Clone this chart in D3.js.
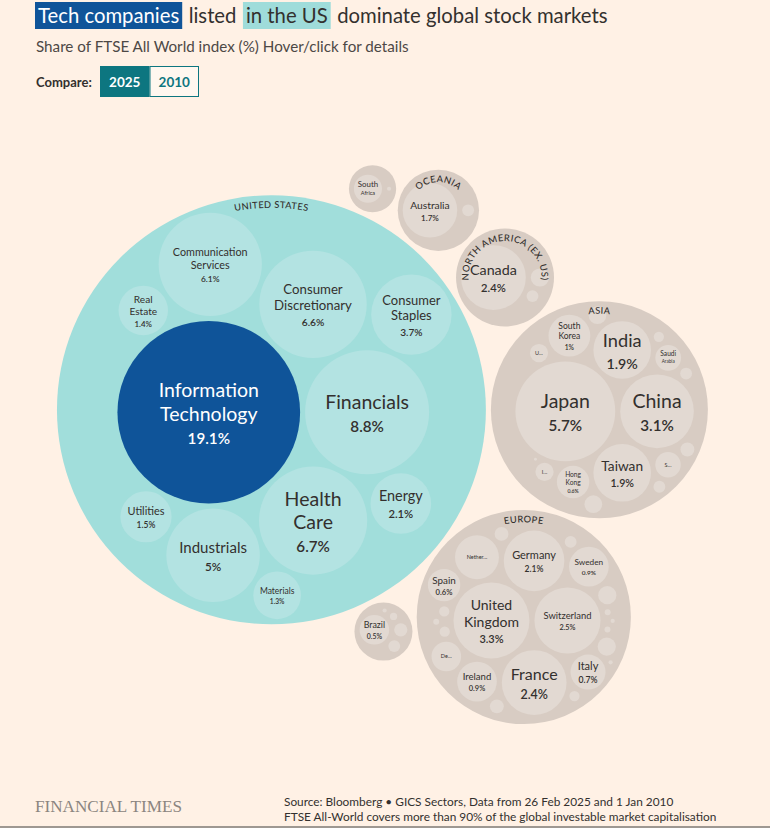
<!DOCTYPE html>
<html><head><meta charset="utf-8">
<script src="https://cdn.jsdelivr.net/npm/d3@7"></script>
<style>
html,body{margin:0;padding:0;background:#FFF1E5;}
svg{display:block;}
</style></head><body>
<svg id="chart" width="770" height="828" style="font-family:Lato,'Noto Sans',sans-serif"></svg>
<script>
// ---------- DATA ----------
const regionNames = ["United States","Asia","Europe","North America (ex. US)","Oceania","Latin America","Africa"];
const regionLabels = ["UNITED STATES","ASIA","EUROPE","NORTH AMERICA (EX. US)","OCEANIA","",""];

const usNames  = ["Information Technology","Financials","Health Care","Consumer Discretionary","Communication Services","Industrials","Consumer Staples","Energy","Utilities","Real Estate","Materials"];
const usShares = [19.1, 8.8, 6.7, 6.6, 6.1, 5, 3.7, 2.1, 1.5, 1.4, 1.3];
const usLabels = usNames;

const asiaNames  = ["Japan","China","Taiwan","India","South Korea","Hong Kong","Saudi Arabia","Singapore","Indonesia","United Arab Emirates","Thailand","Malaysia","Qatar","Kuwait","Philippines","Pakistan","Egypt"];
const asiaShares = [5.7, 3.1, 1.9, 1.9, 1.0, 0.6, 0.38, 0.37, 0.19, 0.19, 0.18, 0.18, 0.11, 0.08, 0.08, 0.06, 0.005];
const asiaLabels = ["Japan","China","Taiwan","India","South Korea","Hong Kong","Saudi Arabia","S...","I...","U...","","","","","","",""];

const euNames  = ["United Kingdom","Switzerland","France","Germany","Netherlands","Ireland","Sweden","Italy","Spain","Denmark","Finland","Belgium","Norway","Austria","Poland","Portugal","Greece","Turkey","Czech Republic","Hungary","Iceland","Luxembourg","Malta"];
const euShares = [3.3, 2.5, 2.4, 2.1, 1.1, 0.9, 0.9, 0.7, 0.6, 0.5, 0.19, 0.19, 0.11, 0.11, 0.08, 0.06, 0.06, 0.06, 0.02, 0.02, 0.02, 0.01, 0.01];
const euLabels = ["United Kingdom","Switzerland","France","Germany","Nether...","Ireland","Sweden","Italy","Spain","De...","","","","","","","","","","","","",""];

const naNames  = ["Canada","Bermuda","Puerto Rico"];
const naShares = [2.4, 0.19, 0.08];
const naLabels = ["Canada","",""];

const ocNames  = ["Australia","New Zealand"];
const ocShares = [1.7, 0.08];
const ocLabels = ["Australia",""];

const laNames  = ["Brazil","Mexico","Chile","Colombia","Peru"];
const laShares = [0.5, 0.1, 0.08, 0.03, 0.01];
const laLabels = ["Brazil","","","",""];

const afNames  = ["South Africa","Morocco"];
const afShares = [0.45, 0.01];
const afLabels = ["South Africa",""];

const years = ["2025","2010"];

// ---------- BUILD HIERARCHY ----------
function kids(names, shares, labels){ return names.map((n,i)=>({name:n, value:shares[i], label:labels[i]})); }
const childLists = [
  kids(usNames, usShares, usLabels),
  kids(asiaNames, asiaShares, asiaLabels),
  kids(euNames, euShares, euLabels),
  kids(naNames, naShares, naLabels),
  kids(ocNames, ocShares, ocLabels),
  kids(laNames, laShares, laLabels),
  kids(afNames, afShares, afLabels)
];
const tree = {name:"World", children: regionNames.map((n,i)=>({name:n, label:regionLabels[i], children:childLists[i]}))};

// ---------- SETUP ----------
const W = 770, H = 828;
const svg = d3.select("#chart");
svg.append("rect").attr("width",W).attr("height",H).attr("fill","#FFF1E5");

const ctx = document.createElement("canvas").getContext("2d");
function tw(str, size, weight){ ctx.font = `${weight||400} ${size}px Lato`; return ctx.measureText(str).width; }

const ink = "#33302E";

// ---------- HEADER ----------
const titleParts = [
  {t:"Tech companies", bg:"#0F5499", fg:"#FFFFFF"},
  {t:"listed", bg:null, fg:ink},
  {t:"in the US", bg:"#9FDCDA", fg:ink},
  {t:"dominate global stock markets", bg:null, fg:ink}
];
const tSize = 20.3;
let tx = 38;
titleParts.forEach(p=>{
  const w = tw(p.t, tSize);
  if (p.bg) svg.append("rect").attr("x",tx-3).attr("y",2).attr("width",w+6).attr("height",27).attr("fill",p.bg);
  svg.append("text").attr("x",tx).attr("y",22.5).attr("font-size",tSize).attr("fill",p.fg).text(p.t);
  tx += w + 9.5;
});

svg.append("text").attr("x",36).attr("y",52).attr("font-size",15.2).attr("fill","#4d4845")
  .text("Share of FTSE All World index (%) Hover/click for details");

svg.append("text").attr("x",36).attr("y",87).attr("font-size",13).attr("font-weight",700).attr("fill",ink).text("Compare:");
const bx = d3.scaleBand().domain(years).range([100,199]);
years.forEach((y,i)=>{
  svg.append("rect").attr("x",bx(y)+0.5).attr("y",66.5).attr("width",bx.bandwidth()-1).attr("height",30)
    .attr("fill", i===0 ? "#0D7680" : "#FFF7EF").attr("stroke","#0D7680").attr("stroke-width",1);
  svg.append("text").attr("x",bx(y)+bx.bandwidth()/2).attr("y",86.5).attr("text-anchor","middle")
    .attr("font-size",13.5).attr("font-weight",700).attr("fill", i===0 ? "#FFFFFF" : "#0D7680").text(y);
});

// ---------- PACK ----------
const K = 20.9;   // px per sqrt(percentage point)
const root = d3.hierarchy(tree).sum(d=>d.children ? 0 : d.value).sort((a,b)=>b.value-a.value);
d3.pack().radius(d=>K*Math.sqrt(d.value)).padding(5).size([762, 892])(root);

const g = svg.append("g");
const nodes = root.descendants().filter(d=>d.depth>0);

const isUS = d => (d.depth===1 ? d.data.name : d.parent.data.name) === "United States";
function fillOf(d){
  if (d.depth===1) return isUS(d) ? "#A1DEDB" : "#D8CCC3";
  if (isUS(d)) return d.data.name==="Information Technology" ? "#0F5499" : "#B3E3E2";
  return "#E2D9D2";
}
g.selectAll("circle").data(nodes).join("circle")
  .attr("cx",d=>d.x).attr("cy",d=>d.y).attr("r",d=>d.r).attr("fill",fillOf);

// region labels along arcs
const regs = root.children.filter(d=>d.data.label);
const defs = svg.append("defs");
regs.forEach((d,i)=>{
  const R = d.r - 12.5;
  defs.append("path").attr("id","arc"+i)
    .attr("d",`M ${d.x},${d.y+R} A ${R},${R} 0 1 1 ${d.x},${d.y-R} A ${R},${R} 0 1 1 ${d.x},${d.y+R}`);
  g.append("text").attr("font-size",9.3).attr("letter-spacing",0.4).attr("font-weight",500).attr("fill",ink)
    .append("textPath").attr("href","#arc"+i).attr("startOffset","50%").attr("text-anchor","middle")
    .text(d.data.label);
});

// leaf labels
const fmt = v => `${+v.toFixed(1)}%`;
nodes.filter(d=>d.depth===2 && d.data.label).forEach(d=>{
  const lab = d.data.label;
  const col = d.data.name==="Information Technology" ? "#FFFFFF" : ink;
  const t = g.append("text").attr("text-anchor","middle").attr("fill",col);
  if (lab.endsWith("...")) {
    t.attr("x",d.x).attr("y",d.y).attr("dy","0.35em").attr("font-size",5.5).text(lab);
    return;
  }
  const words = lab.split(" ");
  const maxW = d3.max(words, w=>tw(w,1));
  let fs;
  if (d.r < 14.5) {
    fs = Math.min(19, 1.45*d.r/maxW);
    t.append("tspan").attr("x",d.x).attr("y",d.y-fs*0.25).attr("font-size",fs).text(words[0]);
    t.append("tspan").attr("x",d.x).attr("y",d.y+fs*0.85).attr("font-size",fs*0.7).text(words.slice(1).join(" "));
    return;
  }
  const pr = 0.78;
  const hUnits = words.length*1.2 + pr*1.3;
  fs = Math.min(19.5, 1.45*d.r/maxW, 1.4*d.r/hUnits);
  const ps = fs*pr;
  const total = words.length*fs*1.2 + ps*1.3;
  let y0 = d.y - total/2;
  words.forEach((w,i)=>{
    t.append("tspan").attr("x",d.x).attr("y",y0 + fs*1.2*(i+0.5)).attr("dy","0.35em").attr("font-size",fs).text(w);
  });
  t.append("tspan").attr("x",d.x).attr("y",y0 + words.length*fs*1.2 + ps*0.85).attr("dy","0.35em")
    .attr("font-size",ps).attr("font-weight",600).text(fmt(d.data.value));
});

// ---------- FOOTER ----------
svg.append("text").attr("x",35).attr("y",812).style("font-family","'Liberation Serif','DejaVu Serif',serif").attr("font-size",17)
  .attr("fill","#8B8580").attr("textLength",147).attr("lengthAdjust","spacingAndGlyphs").text("FINANCIAL TIMES");
svg.append("text").attr("x",284).attr("y",806).attr("font-size",11.85).attr("fill",ink)
  .text("Source: Bloomberg \u2022 GICS Sectors, Data from 26 Feb 2025 and 1 Jan 2010");
svg.append("text").attr("x",284).attr("y",821).attr("font-size",11.85).attr("fill",ink)
  .text("FTSE All-World covers more than 90% of the global investable market capitalisation");
svg.append("rect").attr("x",0).attr("y",826).attr("width",W).attr("height",2).attr("fill","#9E9892");
</script>
</body></html>
